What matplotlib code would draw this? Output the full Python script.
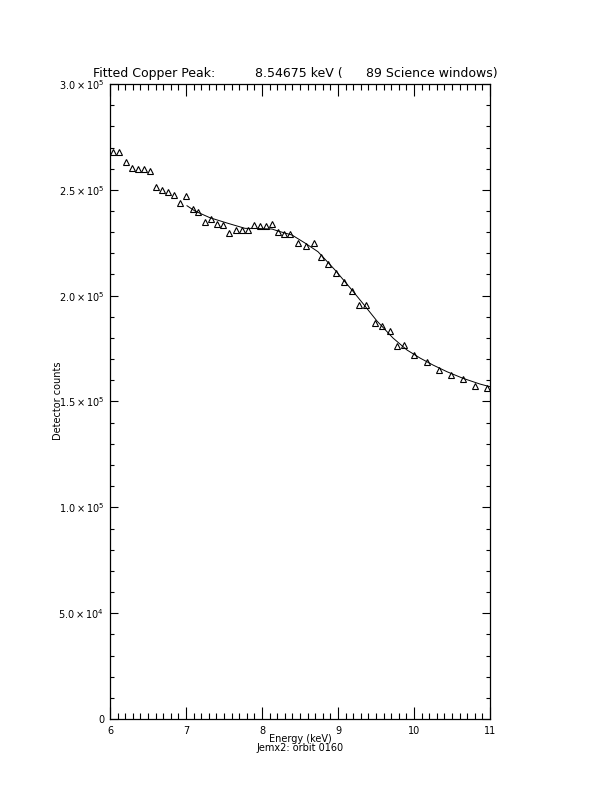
import matplotlib
matplotlib.use("Agg")
import matplotlib.pyplot as plt
from matplotlib.ticker import MultipleLocator, FixedLocator

# Data points (energy in keV, detector counts)
energy = [6.043, 6.118, 6.207, 6.286, 6.364, 6.447, 6.526, 6.605, 6.688, 6.767,
          6.846, 6.925, 7.000, 7.088, 7.164, 7.250, 7.329, 7.408, 7.487, 7.570,
          7.658, 7.733, 7.812, 7.891, 7.970, 8.049, 8.128, 8.207, 8.286, 8.365,
          8.478, 8.575, 8.680, 8.776, 8.872, 8.978, 9.075, 9.180, 9.276, 9.372,
          9.483, 9.575, 9.678, 9.780, 9.872, 10.004, 10.167, 10.329, 10.483, 10.641,
          10.807, 10.961]
counts = [268000, 268000, 263270, 260430, 259820, 259680, 258880, 251460, 249900, 248810,
          247540, 243620, 247070, 240780, 239510, 234930, 236200, 233840, 233370, 229440,
          231150, 231150, 231150, 233370, 233040, 233040, 233700, 230200, 229110, 229110,
          225000, 223450, 224720, 218390, 214940, 210550, 206580, 202330, 195570, 195570,
          186930, 185650, 183290, 176200, 176820, 172100, 168790, 164870, 162360, 160620,
          157450, 156510]

# Fitted curve
fit_energy = [7.013, 7.118, 7.316, 7.553, 7.776, 7.947, 8.132, 8.211, 8.395, 8.566,
              8.737, 8.961, 9.184, 9.355, 9.513, 9.724, 9.908, 10.079, 10.250, 10.434,
              10.645, 10.868, 11.0]
fit_counts = [242480, 239980, 236810, 234170, 231810, 231710, 231480, 230530, 228640, 224860,
              220750, 212110, 202660, 195100, 188020, 179980, 174320, 170540, 167230, 164070,
              160950, 158250, 156980]

xticks = [6, 7, 8, 9, 10, 11]
xtick_labels = ["6", "7", "8", "9", "10", "11"]
yticks = [0, 50000, 100000, 150000, 200000, 250000, 300000]
ytick_labels = ["0", r"$5.0\times10^{4}$", r"$1.0\times10^{5}$", r"$1.5\times10^{5}$",
                r"$2.0\times10^{5}$", r"$2.5\times10^{5}$", r"$3.0\times10^{5}$"]

title_parts = ["Fitted Copper Peak:", "8.54675 keV (", "89 Science windows)"]

W, H = 612, 792
fig = plt.figure(figsize=(W / 100, H / 100), dpi=100)
ax = fig.add_axes([110 / W, (H - 719) / H, 380 / W, 635 / H])

ax.plot(energy, counts, linestyle="none", marker="^", markersize=4.6,
        markerfacecolor="none", markeredgecolor="black", markeredgewidth=0.8)
ax.plot(fit_energy, fit_counts, color="black", linewidth=0.7)

ax.set_xlim(6, 11)
ax.set_ylim(0, 300000)
ax.xaxis.set_major_locator(FixedLocator(xticks))
ax.xaxis.set_minor_locator(MultipleLocator(0.1))
ax.yaxis.set_major_locator(FixedLocator(yticks))
ax.yaxis.set_minor_locator(MultipleLocator(10000))
ax.set_xticklabels(xtick_labels)
ax.set_yticklabels(ytick_labels)

for s in ax.spines.values():
    s.set_linewidth(0.9)

ax.tick_params(axis="x", which="major", direction="in", length=8.5, width=0.8,
               top=True, bottom=True, labelsize=7, pad=5)
ax.tick_params(axis="x", which="minor", direction="in", length=4.3, width=0.8,
               top=True, bottom=True)
ax.tick_params(axis="y", which="major", direction="in", length=5.5, width=0.8,
               left=True, right=True, labelsize=7, pad=4)
ax.tick_params(axis="y", which="minor", direction="in", length=3, width=0.8,
               left=True, right=True)

fig.text(300 / W, (H - 739) / H, "Energy (keV)", ha="center", va="center", fontsize=7)
fig.text(300 / W, (H - 748) / H, "Jemx2: orbit 0160", ha="center", va="center", fontsize=7)
fig.text(58 / W, (H - 401) / H, "Detector counts", ha="center", va="center",
         rotation=90, fontsize=7)

fig.text(93 / W, (H - 77) / H, title_parts[0], ha="left", va="baseline", fontsize=9)
fig.text(255 / W, (H - 77) / H, title_parts[1], ha="left", va="baseline", fontsize=9)
fig.text(498 / W, (H - 77) / H, title_parts[2], ha="right", va="baseline", fontsize=9)

fig.savefig("out.png", dpi=100)
